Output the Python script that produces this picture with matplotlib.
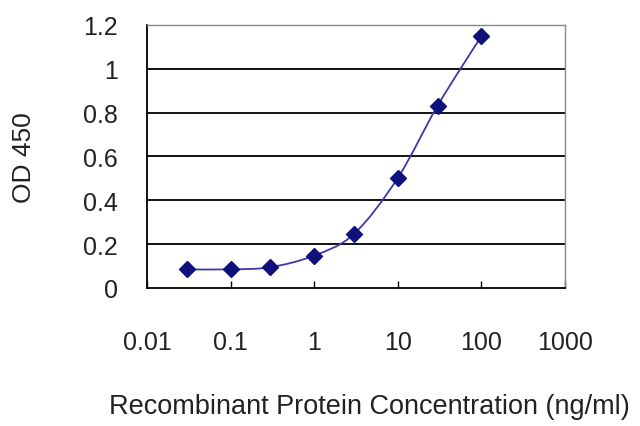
import numpy as np
import matplotlib
matplotlib.use('Agg')
import matplotlib.pyplot as plt
from matplotlib.path import Path
from matplotlib.patches import PathPatch

# concentrations (ng/ml) and OD 450 readings
conc = [0.03, 0.1, 0.3, 1, 3, 10, 30, 100]
od450 = [0.085, 0.085, 0.095, 0.148, 0.247, 0.502, 0.832, 1.149]

xticks = [0.01, 0.1, 1, 10, 100, 1000]
xticklabels = ['0.01', '0.1', '1', '10', '100', '1000']
yticks = [0, 0.2, 0.4, 0.6, 0.8, 1.0, 1.2]
yticklabels = ['0', '0.2', '0.4', '0.6', '0.8', '1', '1.2']

plt.rcParams['font.family'] = ['Liberation Sans', 'DejaVu Sans']

fig = plt.figure(figsize=(6.4, 4.27), dpi=100)
ax = fig.add_axes([0.2297, 0.3232, 0.653, 0.616])
ax.set_xscale('log')
ax.set_xlim(0.01, 1000)
ax.set_ylim(0, 1.2)

# gridlines
for yv in yticks[1:-1]:
    ax.axhline(yv, color='black', lw=1.3, zorder=1)

# smoothed line (Catmull-Rom as bezier segments, built in log-x space)
lx = np.log10(conc)
ly = np.array(od450)
n = len(lx)
verts = [(lx[0], ly[0])]
codes = [Path.MOVETO]
for i in range(n - 1):
    p0 = (lx[max(i - 1, 0)], ly[max(i - 1, 0)])
    p1 = (lx[i], ly[i])
    p2 = (lx[i + 1], ly[i + 1])
    p3 = (lx[min(i + 2, n - 1)], ly[min(i + 2, n - 1)])
    c1 = (p1[0] + (p2[0] - p0[0]) / 6, p1[1] + (p2[1] - p0[1]) / 6)
    c2 = (p2[0] - (p3[0] - p1[0]) / 6, p2[1] - (p3[1] - p1[1]) / 6)
    verts += [c1, c2, p2]
    codes += [Path.CURVE4] * 3
verts = [(10 ** vx, vy) for vx, vy in verts]
ax.add_patch(PathPatch(Path(verts, codes), fill=False, edgecolor='#3a3aa8',
                       lw=1.3, zorder=2))

ax.plot(conc, od450, 'D', color='#10107a', markersize=8, ls='none', zorder=3)

ax.set_xticks(xticks)
ax.set_xticklabels(xticklabels)
ax.xaxis.set_minor_locator(matplotlib.ticker.NullLocator())
ax.set_yticks(yticks)
ax.set_yticklabels(yticklabels)
ax.tick_params(axis='x', direction='in', length=5, width=1, pad=30,
               labelsize=18, colors='black', labelcolor='#222222')
ax.tick_params(axis='y', length=0, pad=21, labelsize=18, labelcolor='#222222')

for side in ['left', 'bottom']:
    ax.spines[side].set_color('black')
    ax.spines[side].set_linewidth(1.3)
for side in ['top', 'right']:
    ax.spines[side].set_color('#888888')
    ax.spines[side].set_linewidth(1.0)

fig.text(0.038, 0.63, 'OD 450', rotation=90, fontsize=19, ha='center',
         va='center', color='#222222')
fig.text(0.577, 0.047, 'Recombinant Protein Concentration (ng/ml)', fontsize=19.5,
         ha='center', va='center', color='#222222')

fig.savefig('out.png', dpi=100)
